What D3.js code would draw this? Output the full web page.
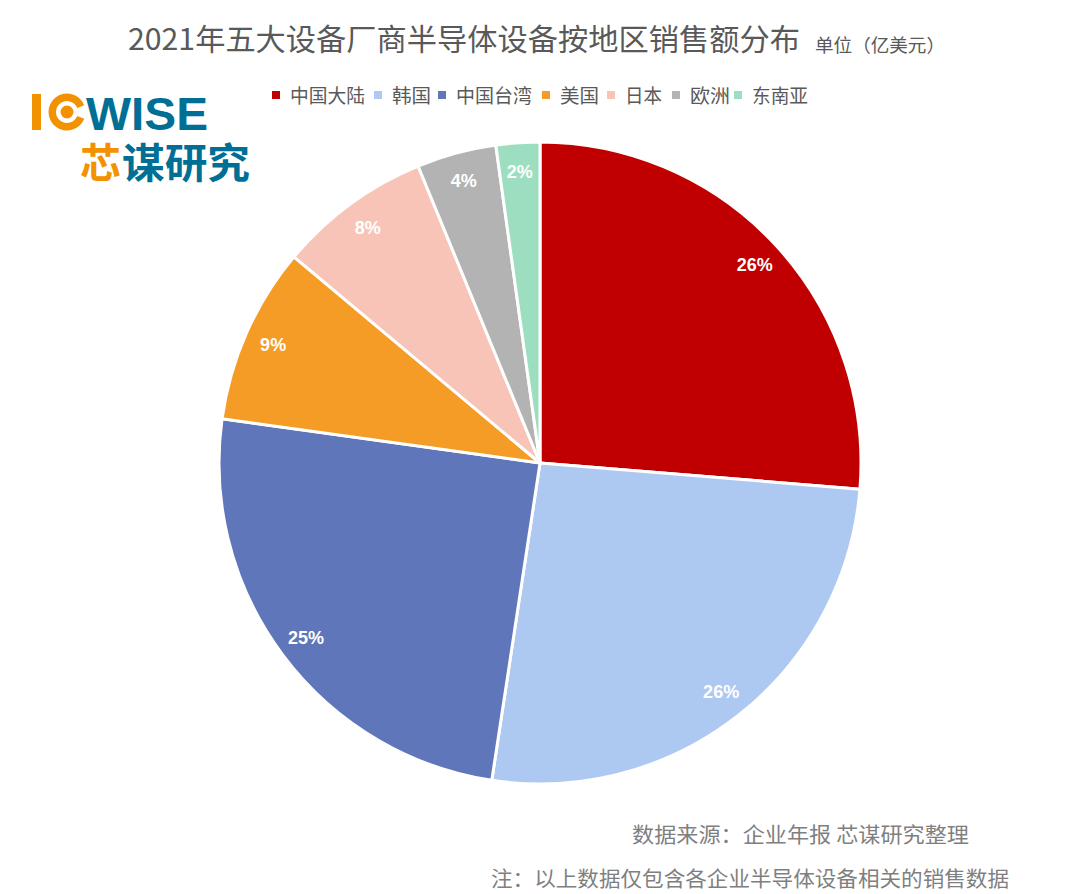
<!DOCTYPE html>
<html><head><meta charset="utf-8">
<script src="https://cdn.jsdelivr.net/npm/d3@7"></script>
<style>body{margin:0;background:#fff;} svg{display:block;font-family:"Noto Sans CJK SC","Noto Sans",sans-serif;}</style>
</head><body>
<svg id="c" width="1080" height="894"></svg>
<script>
const categories = ["中国大陆","韩国","中国台湾","美国","日本","欧洲","东南亚"];
const values = [26.3, 26.1, 24.8, 8.9, 7.7, 4.0, 2.2];
const labels = ["26%","26%","25%","9%","8%","4%","2%"];
const colors = ["#C00000","#AEC9F1","#5F76BA","#F59C27","#F8C4B8","#B3B3B3","#9DDEC0"];

const svg = d3.select("#c");
const cx = 540, cy = 463, R = 321;

// title
svg.append("text").attr("x",128).attr("y",50).attr("font-size",30).attr("fill","#595959")
  .attr("textLength",672).attr("lengthAdjust","spacingAndGlyphs").text("2021年五大设备厂商半导体设备按地区销售额分布");
svg.append("text").attr("x",815).attr("y",52).attr("font-size",18).attr("fill","#595959")
  .attr("textLength",130).attr("lengthAdjust","spacingAndGlyphs").text("单位（亿美元）");

// logo
const logo = svg.append("g");
logo.append("rect").attr("x",32).attr("y",94).attr("width",9).attr("height",36).attr("fill","#F39200");
const ring = d3.arc().innerRadius(11).outerRadius(18.5).startAngle(Math.PI*0.62).endAngle(Math.PI*2.38);
logo.append("path").attr("d",ring()).attr("transform","translate(67,112)").attr("fill","#F39200");
logo.append("circle").attr("cx",67).attr("cy",112).attr("r",6.5).attr("fill","#F39200");
logo.append("text").attr("x",86).attr("y",130).attr("font-size",46).attr("font-weight","bold").attr("font-family","Liberation Sans, Arial").attr("fill","#006F95").attr("textLength",122).attr("lengthAdjust","spacingAndGlyphs").text("WISE");
logo.append("text").attr("x",80).attr("y",178).attr("font-size",41).attr("font-weight","bold").attr("fill","#F39200").text("芯");
logo.append("text").attr("x",122).attr("y",178).attr("font-size",41).attr("font-weight","bold").attr("fill","#006F95").attr("textLength",128).attr("lengthAdjust","spacingAndGlyphs").text("谋研究");

// legend
const legX = [272,374,438,542,607,672,734];
const legW = [75,39,76,39,37,40,56];
const leg = svg.append("g");
categories.forEach((c,i)=>{
  leg.append("rect").attr("x",legX[i]).attr("y",91).attr("width",8).attr("height",8).attr("fill",colors[i]);
  leg.append("text").attr("x",legX[i]+18).attr("y",103).attr("font-size",19).attr("fill","#595959")
    .attr("textLength",legW[i]).attr("lengthAdjust","spacingAndGlyphs").text(c);
});

// pie
const pie = d3.pie().sort(null).value(d=>d)(values);
const arc = d3.arc().innerRadius(0).outerRadius(R);
const labelArc = d3.arc().innerRadius(292).outerRadius(292);
const g = svg.append("g").attr("transform",`translate(${cx},${cy})`);
g.selectAll("path").data(pie).enter().append("path")
  .attr("d",arc).attr("fill",(d,i)=>colors[i]).attr("stroke","#fff").attr("stroke-width",3).attr("stroke-linejoin","round");
g.selectAll("text").data(pie).enter().append("text")
  .attr("transform",d=>`translate(${labelArc.centroid(d)})`)
  .attr("text-anchor","middle").attr("dy","0.35em")
  .attr("font-size",18).attr("font-weight","bold").attr("font-family","Liberation Sans, Arial").attr("fill","#fff")
  .text((d,i)=>labels[i]);

// footnotes
svg.append("text").attr("x",632).attr("y",842).attr("font-size",21).attr("fill","#7F7F7F")
  .attr("textLength",337).attr("lengthAdjust","spacingAndGlyphs").text("数据来源：企业年报  芯谋研究整理");
svg.append("text").attr("x",491).attr("y",886).attr("font-size",21).attr("fill","#7F7F7F")
  .attr("textLength",518).attr("lengthAdjust","spacingAndGlyphs").text("注：以上数据仅包含各企业半导体设备相关的销售数据");
</script>
</body></html>
